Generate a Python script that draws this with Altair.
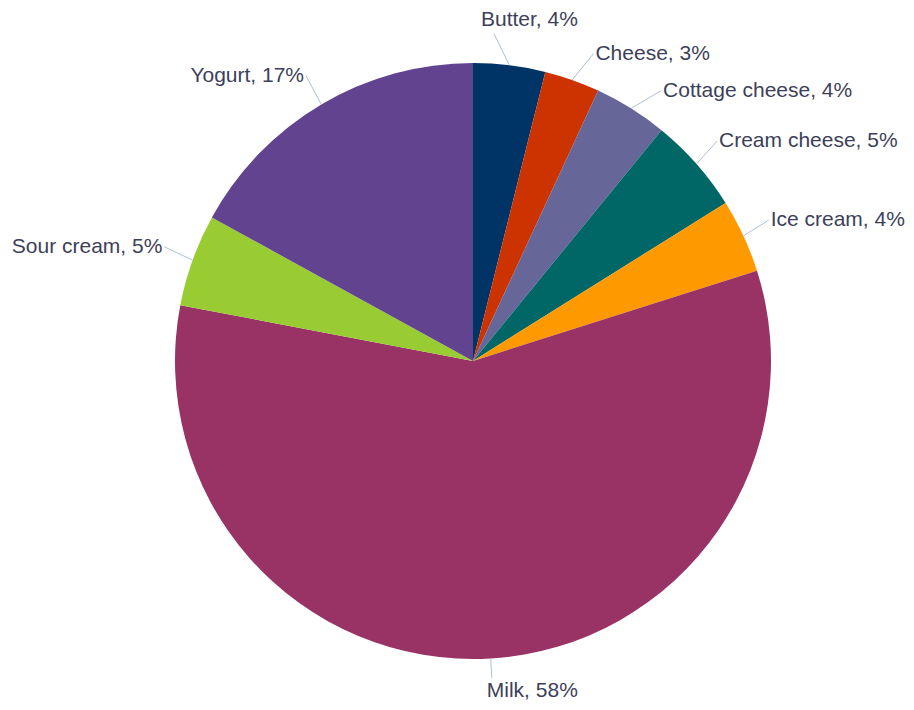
import math
import pandas as pd
import altair as alt

categories = ["Butter", "Cheese", "Cottage cheese", "Cream cheese", "Ice cream",
              "Milk", "Sour cream", "Yogurt"]
values = [3.9, 3.0, 4.0, 5.2, 4.0, 57.9, 5.0, 17.0]
colors = ["#003366", "#CC3300", "#666699", "#006666", "#FF9900",
          "#993366", "#99CC33", "#62438F"]

W, H = 898, 694
CX, CY, R = 465, 353, 298
LR = R + 30
GAP = 37

total = sum(values)
mids = []
cum = 0.0
for v in values:
    mids.append((cum + v / 2) / total * 2 * math.pi)
    cum += v


def distribute(targets, gap):
    groups = []
    order = sorted(range(len(targets)), key=lambda i: targets[i])
    for i in order:
        groups.append([[i], [targets[i]]])
        while len(groups) > 1:
            a, b = groups[-2], groups[-1]
            ma = sum(a[1]) / len(a[1])
            mb = sum(b[1]) / len(b[1])
            a_end = ma + gap * (len(a[0]) - 1) / 2
            b_start = mb - gap * (len(b[0]) - 1) / 2
            if a_end + gap > b_start:
                groups[-2] = [a[0] + b[0], a[1] + b[1]]
                groups.pop()
            else:
                break
    pos = {}
    for idx, ts in groups:
        m = sum(ts) / len(ts)
        start = m - gap * (len(idx) - 1) / 2
        for k, i in enumerate(idx):
            pos[i] = start + k * gap
    return pos


sides = [1 if m <= math.pi else -1 for m in mids]
natural_y = [CY - LR * math.cos(m) for m in mids]
label_y = [0.0] * len(values)
for s in (1, -1):
    ids = [i for i in range(len(values)) if sides[i] == s]
    pos = distribute([natural_y[i] for i in ids], GAP)
    for k, i in enumerate(ids):
        label_y[i] = pos[k]

rows = []
for i, (c, v) in enumerate(zip(categories, values)):
    s = sides[i]
    m = mids[i]
    ex, ey = CX + R * math.sin(m), CY - R * math.cos(m)
    dy = label_y[i] - CY
    under = LR * LR - dy * dy
    if math.cos(m) < -0.99:  # bottom label: placed below its connector
        lx, ly = ex - 4, CY + LR + 2
        cx2, cy2 = ex + 1, CY + R + 19
    elif under <= 0:  # top label pushed above the pie
        lx, ly = CX + s * 8, label_y[i]
        cx2, cy2 = CX + s * 21, ly + 14
    else:
        pad = 0 if s > 0 else -2
        lx = CX + s * math.sqrt(under) + pad
        ly = label_y[i] - 3
        cx2, cy2 = lx - s * 2, ly
    rows.append({
        "idx": i, "category": c, "value": v,
        "label": f"{c}, {round(v / total * 100)}%",
        "lx": lx, "ly": ly, "side": s,
        "ex": ex, "ey": ey, "cx2": cx2, "cy2": cy2,
    })

df = pd.DataFrame(rows)
base = alt.Chart(df)

pie = base.mark_arc(radius=R).encode(
    theta=alt.Theta("value:Q", stack=True),
    order=alt.Order("idx:Q"),
    color=alt.Color("category:N", scale=alt.Scale(domain=categories, range=colors),
                    legend=None),
    x=alt.value(CX), y=alt.value(CY),
)

connectors = base.mark_rule(color="#AEBFD6", strokeWidth=1).encode(
    x=alt.X("ex:Q", scale=None), y=alt.Y("ey:Q", scale=None),
    x2="cx2:Q", y2="cy2:Q",
)

text_style = dict(font="Liberation Sans", fontSize=21, color="#3d3f5a", baseline="middle")
labels_right = base.transform_filter("datum.side > 0").mark_text(align="left", **text_style).encode(
    x=alt.X("lx:Q", scale=None), y=alt.Y("ly:Q", scale=None), text="label:N")
labels_left = base.transform_filter("datum.side < 0").mark_text(align="right", **text_style).encode(
    x=alt.X("lx:Q", scale=None), y=alt.Y("ly:Q", scale=None), text="label:N")

chart = alt.layer(pie, connectors, labels_right, labels_left).properties(
    width=W, height=H, padding=0, autosize=alt.AutoSizeParams(type="none"),
).configure_view(stroke=None)

chart.save("out.html", embed_options={"renderer": "svg", "actions": False})
